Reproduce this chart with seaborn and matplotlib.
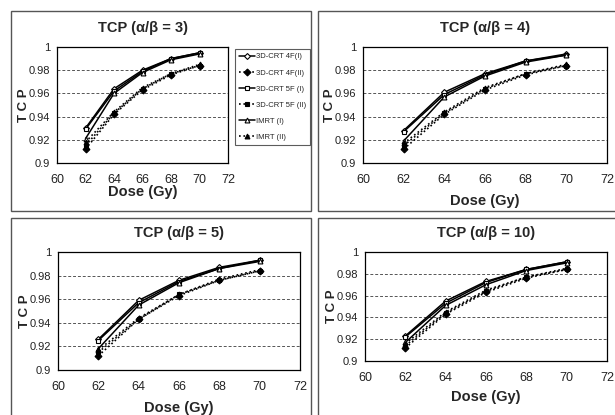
import numpy as np
import pandas as pd
import seaborn as sns
import matplotlib.pyplot as plt
from matplotlib.patches import Rectangle
from matplotlib.ticker import MultipleLocator, FixedLocator

# Дози (Gy)
doses = [62, 64, 66, 68, 70]

series_names = ["3D-CRT 4F(I)", "3D-CRT 4F(II)", "3D-CRT 5F (I)",
                "3D-CRT 5F (II)", "IMRT (I)", "IMRT (II)"]

# alpha/beta = 3
tcp_ab3 = {
    "3D-CRT 4F(I)":   [0.930, 0.964, 0.980, 0.990, 0.995],
    "3D-CRT 4F(II)":  [0.912, 0.942, 0.963, 0.976, 0.984],
    "3D-CRT 5F (I)":  [0.929, 0.962, 0.979, 0.990, 0.995],
    "3D-CRT 5F (II)": [0.915, 0.943, 0.964, 0.977, 0.984],
    "IMRT (I)":       [0.921, 0.960, 0.978, 0.989, 0.994],
    "IMRT (II)":      [0.918, 0.944, 0.965, 0.977, 0.985],
}
# alpha/beta = 4
tcp_ab4 = {
    "3D-CRT 4F(I)":   [0.928, 0.961, 0.977, 0.988, 0.994],
    "3D-CRT 4F(II)":  [0.912, 0.942, 0.963, 0.976, 0.984],
    "3D-CRT 5F (I)":  [0.927, 0.959, 0.976, 0.988, 0.993],
    "3D-CRT 5F (II)": [0.915, 0.943, 0.964, 0.977, 0.984],
    "IMRT (I)":       [0.919, 0.957, 0.975, 0.987, 0.993],
    "IMRT (II)":      [0.917, 0.944, 0.965, 0.977, 0.985],
}
# alpha/beta = 5
tcp_ab5 = {
    "3D-CRT 4F(I)":   [0.926, 0.959, 0.976, 0.987, 0.993],
    "3D-CRT 4F(II)":  [0.912, 0.943, 0.963, 0.976, 0.984],
    "3D-CRT 5F (I)":  [0.925, 0.957, 0.975, 0.986, 0.993],
    "3D-CRT 5F (II)": [0.915, 0.943, 0.964, 0.976, 0.984],
    "IMRT (I)":       [0.918, 0.955, 0.974, 0.986, 0.992],
    "IMRT (II)":      [0.917, 0.944, 0.964, 0.977, 0.985],
}
# alpha/beta = 10
tcp_ab10 = {
    "3D-CRT 4F(I)":   [0.923, 0.955, 0.973, 0.984, 0.991],
    "3D-CRT 4F(II)":  [0.912, 0.943, 0.963, 0.976, 0.984],
    "3D-CRT 5F (I)":  [0.922, 0.953, 0.972, 0.984, 0.991],
    "3D-CRT 5F (II)": [0.914, 0.944, 0.964, 0.977, 0.984],
    "IMRT (I)":       [0.917, 0.951, 0.970, 0.983, 0.990],
    "IMRT (II)":      [0.916, 0.945, 0.965, 0.977, 0.985],
}

panel_titles = ["TCP (α/β = 3)", "TCP (α/β = 4)", "TCP (α/β = 5)", "TCP (α/β = 10)"]
panel_data = [tcp_ab3, tcp_ab4, tcp_ab5, tcp_ab10]

y_ticks = [0.9, 0.92, 0.94, 0.96, 0.98, 1.0]
y_tick_labels = ["0.9", "0.92", "0.94", "0.96", "0.98", "1"]
x_ticks = [60, 62, 64, 66, 68, 70, 72]

# стиль ліній
styles = {
    "3D-CRT 4F(I)":   dict(ls="-", marker="D", mfc="white", ms=3),
    "3D-CRT 4F(II)":  dict(ls=":", marker="D", mfc="black", ms=3.5),
    "3D-CRT 5F (I)":  dict(ls="-", marker="s", mfc="white", ms=3.5),
    "3D-CRT 5F (II)": dict(ls=":", marker="s", mfc="black", ms=3.5),
    "IMRT (I)":       dict(ls="-", marker="^", mfc="white", ms=3.5),
    "IMRT (II)":      dict(ls=":", marker="^", mfc="black", ms=3.5),
}

sns.set_style("white")
plt.rcParams['font.family'] = ['Liberation Sans', 'DejaVu Sans']

W, H = 615, 415
fig = plt.figure(figsize=(6.15, 4.15), dpi=100)


def px_axes(l, r, t, b):
    return fig.add_axes([l / W, (H - b) / H, (r - l) / W, (b - t) / H])


def px_frame(l, r, t, b):
    fig.patches.append(Rectangle((l / W, (H - b) / H), (r - l) / W, (b - t) / H,
                                 transform=fig.transFigure, fill=False,
                                 edgecolor="#555555", lw=1.0))


# рамки панелей
px_frame(11, 311, 11, 211)
px_frame(318, 616, 11, 211)
px_frame(11, 311, 218, 416)
px_frame(318, 616, 218, 416)

boxes = [(57, 228, 47, 163), (363, 607, 47, 163),
         (58, 300, 252, 370), (365, 607, 252, 361)]
xlabel_pads = [-1, 6, 6, 4]

for i, (box, title, data) in enumerate(zip(boxes, panel_titles, panel_data)):
    ax = px_axes(*box)
    for name in series_names:
        st = styles[name]
        df = pd.DataFrame({"Dose": doses, "TCP": data[name]})
        sns.lineplot(data=df, x="Dose", y="TCP", ax=ax, color="black",
                     linestyle=st["ls"], lw=1.1 if st["ls"] == "-" else 1.2,
                     marker=st["marker"], markerfacecolor=st["mfc"],
                     markeredgecolor="black", markersize=st["ms"],
                     markeredgewidth=0.8, label=name, legend=False)
    ax.set_xlim(60, 72)
    ax.set_ylim(0.9, 1.0)
    ax.set_xticks(x_ticks)
    ax.set_xticklabels([str(x) for x in x_ticks], fontsize=9)
    ax.yaxis.set_major_locator(FixedLocator(y_ticks))
    ax.set_yticklabels(y_tick_labels, fontsize=8)
    ax.xaxis.set_minor_locator(MultipleLocator(1))
    ax.yaxis.set_minor_locator(MultipleLocator(0.005))
    ax.tick_params(which="both", direction="in", length=3, width=0.8, colors="black",
                   labelcolor="#222222")
    ax.tick_params(axis="x", which="major", pad=8)
    ax.tick_params(axis="y", which="major", pad=5)
    for yv in [0.92, 0.94, 0.96, 0.98]:
        ax.axhline(yv, color="#555555", ls=(0, (3, 2)), lw=0.7, zorder=0)
    for s in ax.spines.values():
        s.set_color("black")
        s.set_linewidth(0.9)
    ax.set_title(title, fontsize=10.5, fontweight="bold", pad=10.5)
    ax.set_xlabel("Dose (Gy)", fontsize=10.5, fontweight="bold", labelpad=xlabel_pads[i])
    ax.set_ylabel("T C P", fontsize=9.5, fontweight="bold", labelpad=-1)

    if i == 0:
        handles, labels = ax.get_legend_handles_labels()
        leg = ax.legend(handles, labels, loc="upper left", bbox_to_anchor=(1.04, 0.98),
                        fontsize=5.5, frameon=True, fancybox=False, edgecolor="#333333",
                        handlelength=2.2, handletextpad=0.1, labelspacing=1.15,
                        borderpad=0.5, borderaxespad=0)
        leg.get_frame().set_linewidth(0.8)

fig.savefig("out.png", dpi=100)
